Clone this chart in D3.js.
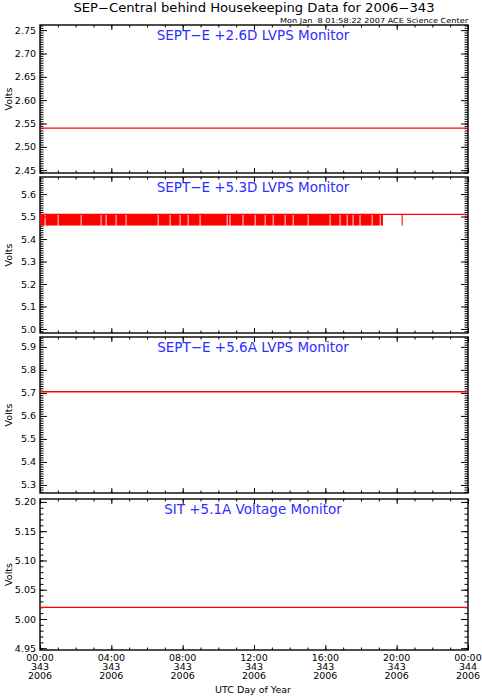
<!DOCTYPE html>
<html>
<head>
<meta charset="utf-8">
<script src="https://cdn.jsdelivr.net/npm/d3@7"></script>
<style>
  body { margin: 0; background: #fff; }
  text { font-family: "DejaVu Sans", sans-serif; fill: #000; }
</style>
</head>
<body>
<svg width="482" height="699"></svg>
<script>
const w = 482;
const h = 699;

// data
var panelTitles = ["SEPT-E +2.6D LVPS Monitor", "SEPT-E +5.3D LVPS Monitor",
                   "SEPT-E +5.6A LVPS Monitor", "SIT +5.1A Voltage Monitor"];
var yRanges = [[2.444, 2.761], [4.982, 5.676], [5.265, 5.943], [4.947, 5.205]];
var yTicks = [
  [2.45, 2.50, 2.55, 2.60, 2.65, 2.70, 2.75],
  [5.0, 5.1, 5.2, 5.3, 5.4, 5.5, 5.6],
  [5.3, 5.4, 5.5, 5.6, 5.7, 5.8, 5.9],
  [4.95, 5.00, 5.05, 5.10, 5.15, 5.20]
];
var yTickFmt = [".2f", ".1f", ".1f", ".2f"];
var yMinorStep = [0.005, 0.01, 0.01, 0.01];
var levels = [2.54, 5.51, 5.705, 5.02];   // steady reading all day

// +5.3D flips between 5.51 and 5.46 during these stretches (hours UTC)
var flickerLow = 5.46;
var flickerSpans = [
  [0.00, 0.26], [0.31, 0.99], [1.04, 2.28], [2.33, 3.40], [3.45, 3.68],
  [3.73, 4.24], [4.29, 4.80], [4.85, 6.60], [6.65, 7.27], [7.32, 7.83],
  [7.88, 8.28], [8.33, 8.95], [9.00, 10.47], [10.52, 10.63], [10.68, 11.36],
  [11.41, 12.04], [12.09, 12.60], [12.65, 13.05], [13.10, 13.72], [13.77, 14.17],
  [14.22, 15.01], [15.06, 16.24], [16.29, 16.80], [16.85, 17.20], [17.25, 17.53],
  [17.58, 17.92], [17.97, 18.60], [18.65, 19.05], [19.10, 19.23], [20.28, 20.34]
];

var xTickHours = [0, 4, 8, 12, 16, 20, 24];
var xTickTime = ["00:00", "04:00", "08:00", "12:00", "16:00", "20:00", "00:00"];
var xTickDoy = ["343", "343", "343", "343", "343", "343", "344"];
var xTickYear = ["2006", "2006", "2006", "2006", "2006", "2006", "2006"];

// layout
var left = 40, right = 468;
var panelBox = [[25, 173], [177, 333], [337, 493], [499, 650]];

var svg = d3.select('svg');
var x = d3.scaleLinear().domain([0, 24]).range([left, right]);

function renderChart() {

  svg.append('text').attr('x', 254).attr('y', 12)
    .attr('text-anchor', 'middle').attr('font-size', 11.5)
    .attr('textLength', 361).attr('lengthAdjust', 'spacingAndGlyphs')
    .text("SEP\u2212Central behind Housekeeping Data for 2006\u2212343");

  svg.append('text').attr('x', 468).attr('y', 23)
    .attr('text-anchor', 'end').attr('font-size', 7)
    .attr('textLength', 188).attr('lengthAdjust', 'spacingAndGlyphs')
    .attr('xml:space', 'preserve')
    .text("Mon Jan  8 01:58:22 2007 ACE Science Center");

  panelTitles.forEach((title, i) => {
    let top = panelBox[i][0], bot = panelBox[i][1];
    let y = d3.scaleLinear().domain(yRanges[i]).range([bot, top]);
    let g = svg.append('g');

    let minor = d3.range(yTicks[i][0] - 0.1, yRanges[i][1], yMinorStep[i])
      .filter(v => v >= yRanges[i][0] && v <= yRanges[i][1]);

    // y axes, ticks point into the box
    g.append('g').attr('transform', `translate(${left},0)`)
      .call(d3.axisLeft(y).tickValues(minor).tickSize(-3.5).tickSizeOuter(0).tickFormat(''));
    g.append('g').attr('transform', `translate(${left},0)`)
      .call(d3.axisLeft(y).tickValues(yTicks[i]).tickSize(-7).tickSizeOuter(0)
        .tickPadding(4).tickFormat(d3.format(yTickFmt[i])));
    g.append('g').attr('transform', `translate(${right},0)`)
      .call(d3.axisRight(y).tickValues(minor).tickSize(-3.5).tickSizeOuter(0).tickFormat(''));
    g.append('g').attr('transform', `translate(${right},0)`)
      .call(d3.axisRight(y).tickValues(yTicks[i]).tickSize(-7).tickSizeOuter(0).tickFormat(''));

    // x axes top and bottom
    let hrs = d3.range(0, 25);
    g.append('g').attr('transform', `translate(0,${top})`)
      .call(d3.axisTop(x).tickValues(hrs).tickSize(-2.5).tickSizeOuter(0).tickFormat(''));
    g.append('g').attr('transform', `translate(0,${top})`)
      .call(d3.axisTop(x).tickValues(xTickHours).tickSize(-5).tickSizeOuter(0).tickFormat(''));
    g.append('g').attr('transform', `translate(0,${bot})`)
      .call(d3.axisBottom(x).tickValues(hrs).tickSize(-2.5).tickSizeOuter(0).tickFormat(''));
    g.append('g').attr('transform', `translate(0,${bot})`)
      .call(d3.axisBottom(x).tickValues(xTickHours).tickSize(-5).tickSizeOuter(0).tickFormat(''));

    g.selectAll('.domain').remove();
    g.selectAll('.tick line').attr('stroke', '#000').attr('stroke-width', 1);
    g.selectAll('.tick text').attr('font-size', 9.5)
      .attr('font-family', '"DejaVu Sans", sans-serif').attr('fill', '#000');

    g.append('rect').attr('x', left).attr('y', top)
      .attr('width', right - left).attr('height', bot - top)
      .attr('fill', 'none').attr('stroke', '#000').attr('stroke-width', 1.4);

    g.append('text')
      .attr('transform', `translate(12,${(top + bot) / 2}) rotate(-90)`)
      .attr('text-anchor', 'middle').attr('font-size', 9.5)
      .text('Volts');

    // data
    if (i == 1) {
      g.selectAll('rect.flick').data(flickerSpans).enter()
        .append('rect').attr('class', 'flick')
        .attr('x', d => x(d[0]))
        .attr('width', d => Math.max(1, x(d[1]) - x(d[0])))
        .attr('y', y(levels[i]))
        .attr('height', y(flickerLow) - y(levels[i]))
        .attr('fill', '#ff0000');
    }
    let line = d3.line().x(d => x(d[0])).y(d => y(d[1]));
    g.append('path').datum([[0, levels[i]], [24, levels[i]]])
      .attr('d', line).attr('fill', 'none')
      .attr('stroke', '#ff0000').attr('stroke-width', 1.3);

    g.append('text').attr('x', 253).attr('y', top + 14.5)
      .attr('text-anchor', 'middle').attr('font-size', 13.5)
      .style('fill', '#2e2eff')
      .text(title.replace(/-/g, '\u2212'));
  });

  // x tick labels under the last panel
  let bot = panelBox[3][1];
  let lab = svg.append('g');
  xTickHours.forEach((hr, k) => {
    let t = lab.append('text').attr('text-anchor', 'middle').attr('font-size', 9.5);
    t.append('tspan').attr('x', x(hr)).attr('y', bot + 10.5).text(xTickTime[k]);
    t.append('tspan').attr('x', x(hr)).attr('y', bot + 19.5).text(xTickDoy[k]);
    t.append('tspan').attr('x', x(hr)).attr('y', bot + 28.5).text(xTickYear[k]);
  });

  svg.append('text').attr('x', 253).attr('y', bot + 43)
    .attr('text-anchor', 'middle').attr('font-size', 9.5)
    .text('UTC Day of Year');
}
renderChart()
</script>
</body>
</html>
